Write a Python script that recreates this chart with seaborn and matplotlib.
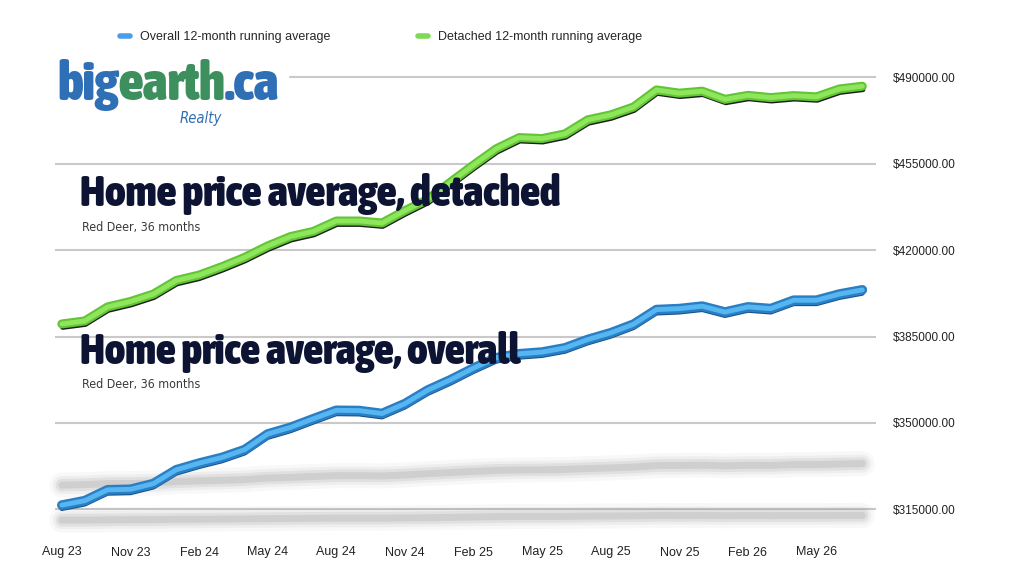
import matplotlib
matplotlib.use("Agg")
import matplotlib.pyplot as plt
import matplotlib.patheffects as pe
from matplotlib import font_manager
from matplotlib.lines import Line2D
import seaborn as sns
import pandas as pd

# ---- data ----
months = ['Aug 23', 'Sep 23', 'Oct 23', 'Nov 23', 'Dec 23', 'Jan 24', 'Feb 24', 'Mar 24',
          'Apr 24', 'May 24', 'Jun 24', 'Jul 24', 'Aug 24', 'Sep 24', 'Oct 24', 'Nov 24',
          'Dec 24', 'Jan 25', 'Feb 25', 'Mar 25', 'Apr 25', 'May 25', 'Jun 25', 'Jul 25',
          'Aug 25', 'Sep 25', 'Oct 25', 'Nov 25', 'Dec 25', 'Jan 26', 'Feb 26', 'Mar 26',
          'Apr 26', 'May 26', 'Jun 26', 'Jul 26']
overall = [316700, 318500, 322900, 323100, 325400, 331000, 333700, 336000, 339200, 345500,
           348200, 351700, 355100, 355000, 353800, 357800, 363300, 367500, 372200, 376400,
           378000, 378700, 380400, 383800, 386500, 390000, 395900, 396300, 397300, 394900,
           397000, 396300, 399700, 399700, 402200, 403900]
detached = [390100, 391300, 397000, 399200, 402200, 407700, 409900, 413300, 417100, 421700,
            425500, 427600, 431800, 431800, 431000, 436000, 440600, 447600, 454500, 461100,
            465600, 465200, 467100, 472800, 474800, 478000, 484900, 483600, 484400, 481100,
            482700, 481800, 482600, 482100, 485300, 486400]
y_ticks = [315000, 350000, 385000, 420000, 455000, 490000]
legend_labels = ['Overall 12-month running average', 'Detached 12-month running average']

df = pd.DataFrame({'idx': range(len(months)), 'month': months,
                   'overall': overall, 'detached': detached})

sns.set_theme(style='white')
plt.rcParams['font.family'] = ['Liberation Sans', 'DejaVu Sans']


def wt(f):
    return f.weight if isinstance(f.weight, int) else 400


# look for a narrow / condensed face for the big titles and the logo
fm = font_manager.fontManager.ttflist
narrow = [f for f in fm if ('Condensed' in f.name or 'Narrow' in f.name
                            or 'ondensed' in f.fname or 'Narrow' in f.fname)]
upright = [f for f in narrow if f.style == 'normal']
slanted = [f for f in narrow if f.style != 'normal']
if upright:
    bold_fp = font_manager.FontProperties(fname=max(upright, key=wt).fname)
    thin_fp = font_manager.FontProperties(
        fname=min(upright, key=lambda f: abs(wt(f) - 350)).fname)
else:
    bold_fp = font_manager.FontProperties(family='Roboto', weight='black')
    thin_fp = font_manager.FontProperties(family='Roboto', weight='light')
if slanted:
    ital_fp = font_manager.FontProperties(
        fname=min(slanted, key=lambda f: abs(wt(f) - 400)).fname)
else:
    ital_fp = font_manager.FontProperties(family='Roboto', style='italic')

W, H = 1024, 586
fig = plt.figure(figsize=(W / 100, H / 100), dpi=100)
fig.patch.set_facecolor('white')
ax = fig.add_axes([55 / W, 1 - 534 / H, 821 / W, 469 / H])

# floor shadows (squashed copies of the two series)
shadow_a = [324800 + (v - overall[0]) * 0.1 for v in overall]
shadow_b = [310600 + (v - detached[0]) * 0.02 for v in detached]
for s in (shadow_a, shadow_b):
    for lw, a in [(18, 0.04), (13, 0.06), (9, 0.09), (5, 0.12)]:
        ax.plot(df['idx'], s, color='#555555', lw=lw, alpha=a,
                solid_capstyle='round', clip_on=False, zorder=1)

blue_fx = [pe.SimpleLineShadow(offset=(0, -2.5), shadow_color='#1b4f85', alpha=1, rho=1),
           pe.Stroke(linewidth=7, foreground='#2a7fc4'), pe.Normal()]
green_fx = [pe.SimpleLineShadow(offset=(0.5, -2.5), shadow_color='#111111', alpha=0.95, rho=1),
            pe.Stroke(linewidth=6.5, foreground='#62c436'), pe.Normal()]

sns.lineplot(data=df, x='idx', y='overall', ax=ax, color='#56b6f2', lw=3.5,
             path_effects=blue_fx, zorder=3, legend=False)
sns.lineplot(data=df, x='idx', y='detached', ax=ax, color='#8ee65a', lw=3.5,
             path_effects=green_fx, zorder=3, legend=False)

ax.set_xlim(-0.3, 35.6)
ax.set_ylim(305000, 495000)
ax.set_xticks(df['idx'][::3])
ax.set_xticklabels(df['month'][::3], fontsize=9, color='#222222')
ax.set_yticks(y_ticks)
ax.set_yticklabels([f'${v:.2f}' for v in y_ticks], fontsize=8.5, color='#222222')
ax.yaxis.tick_right()
ax.tick_params(axis='y', length=0, pad=12)
ax.tick_params(axis='x', length=0, pad=9)
ax.set_xlabel('')
ax.set_ylabel('')
ax.yaxis.grid(True, color='#c9c9c9', lw=1.5)
ax.xaxis.grid(False)
for sp in ax.spines.values():
    sp.set_visible(False)

# legend
handles = [Line2D([], [], color='#4a9ee8', lw=4),
           Line2D([], [], color='#7ed957', lw=4)]
fig.legend(handles, legend_labels, loc='center', bbox_to_anchor=(0.372, 0.937), ncol=2,
           frameon=False, fontsize=9, handlelength=0.8, handletextpad=0.8, columnspacing=7)

r = fig.canvas.get_renderer()


def fit(t, width_px):
    w = t.get_window_extent(r).width
    t.set_fontsize(t.get_fontsize() * width_px / w)


# logo
fig.patches.append(plt.Rectangle((50 / W, 1 - 120 / H), 238 / W, 60 / H,
                                 transform=fig.transFigure, color='white', zorder=4))
logo = [fig.text(0, 0, s, color=c, fontproperties=bold_fp, zorder=5, va='baseline')
        for s, c in [('big', '#2f6fb5'), ('earth', '#3d8f5e'), ('.ca', '#2f6fb5')]]
for t in logo:
    t.set_fontsize(30)


def place_logo():
    x = 57
    for t in logo:
        t.set_position((x / W, 1 - 100 / H))
        x += t.get_window_extent(r).width
    return x - 57


total = place_logo()
for t in logo:
    t.set_fontsize(t.get_fontsize() * 223 / total)
place_logo()
rl = fig.text(180 / W, 1 - 123 / H, 'Realty', color='#2f6fb5',
              fontproperties=ital_fp, zorder=5, va='baseline')
rl.set_fontsize(10)
fit(rl, 42)

# titles
navy = '#0d1433'
for title, base, sub_base, tw in [('Home price average, detached', 206, 231, 480),
                                  ('Home price average, overall', 364, 388, 440)]:
    t = fig.text(80 / W, 1 - base / H, title, color=navy, fontproperties=bold_fp,
                 va='baseline', zorder=6)
    t.set_fontsize(24)
    fit(t, tw)
    s = fig.text(82 / W, 1 - sub_base / H, 'Red Deer, 36 months', color='#3a3a3a',
                 fontproperties=thin_fp, va='baseline', zorder=6)
    s.set_fontsize(9)
    fit(s, 118)

fig.savefig('out.png', dpi=100, facecolor='white')
